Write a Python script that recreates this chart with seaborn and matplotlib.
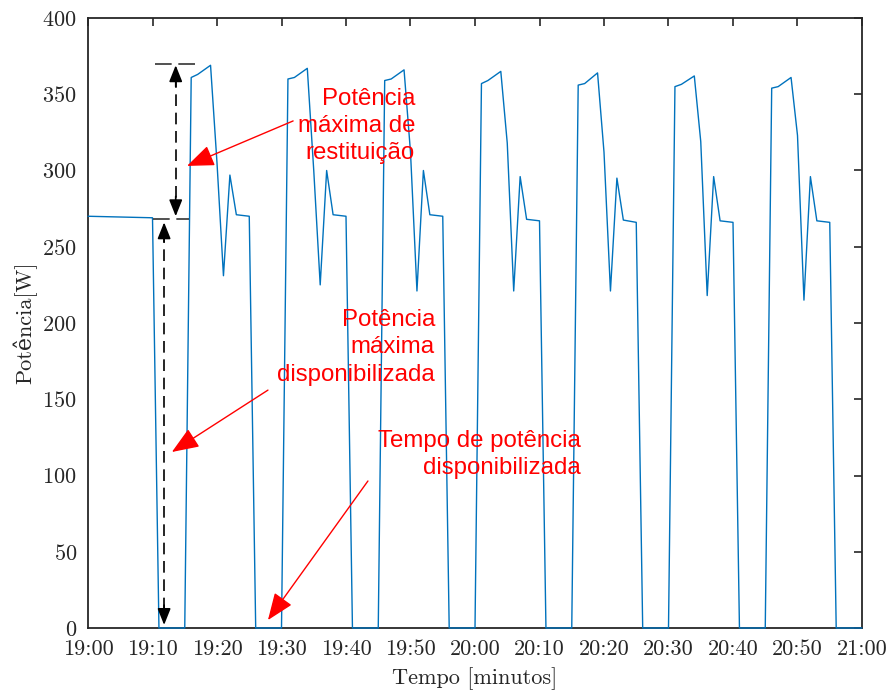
import matplotlib
matplotlib.use("Agg")
import matplotlib.pyplot as plt
import pandas as pd
import seaborn as sns

# Measured power, time in minutes after 19:00
minutes = [0, 10, 11, 15,
           16, 17, 19, 20, 21, 22, 23, 25, 26, 30,
           31, 32, 34, 35, 36, 37, 38, 40, 41, 45,
           46, 47, 49, 50, 51, 52, 53, 55, 56, 60,
           61, 62, 64, 65, 66, 67, 68, 70, 71, 75,
           76, 77, 79, 80, 81, 82, 83, 85, 86, 90,
           91, 92, 94, 95, 96, 97, 98, 100, 101, 105,
           106, 107, 109, 110, 111, 112, 113, 115, 116, 120]
power = [270, 269, 0, 0,
         361, 363, 369, 305, 231, 297, 271, 270, 0, 0,
         360, 361, 367, 300, 225, 300, 271, 270, 0, 0,
         359, 360, 366, 312, 221, 300, 271, 270, 0, 0,
         357, 359, 365, 318, 221, 296, 268, 267, 0, 0,
         356, 357, 364, 312, 221, 295, 267.5, 266, 0, 0,
         355, 356.5, 362, 319, 218, 296, 267, 266, 0, 0,
         354, 355, 361, 323, 215, 296, 267, 266, 0, 0]

xtick_minutes = [0, 10, 20, 30, 40, 50, 60, 70, 80, 90, 100, 110, 120]
xtick_labels = ["19:00", "19:10", "19:20", "19:30", "19:40", "19:50", "20:00",
                "20:10", "20:20", "20:30", "20:40", "20:50", "21:00"]
yticks = [0, 50, 100, 150, 200, 250, 300, 350, 400]

sns.set_theme(style="white")
plt.rcParams["font.family"] = ["cmr10", "DejaVu Serif"]
plt.rcParams["axes.formatter.use_mathtext"] = True

W, H = 892, 697
fig = plt.figure(figsize=(W / 100, H / 100), dpi=100)
L, R, T, B = 88, 862, 18, 628
ax = fig.add_axes([L / W, 1 - B / H, (R - L) / W, (B - T) / H])

df = pd.DataFrame({"t": minutes, "p": power})
sns.lineplot(data=df, x="t", y="p", ax=ax, color="#0072BD", linewidth=1.0)
for ln in ax.lines:
    ln.set_zorder(3)
    ln.set_clip_on(False)

ax.set_xlim(0, 120)
ax.set_ylim(0, 400)
ax.set_xticks(xtick_minutes)
ax.set_xticklabels(xtick_labels)
ax.set_yticks(yticks)
ax.tick_params(direction="in", length=6, width=1.2, top=True, right=True,
               labelsize=16, pad=8, colors="#262626")
for s in ax.spines.values():
    s.set_linewidth(1.3)
    s.set_color("#262626")
    s.set_visible(True)
ax.set_xlabel("Tempo [minutos]", fontsize=16, color="#262626", labelpad=6)
ax.set_ylabel("Potência[W]", fontsize=16, color="#262626", labelpad=4)

# Dashed reference marks for the two power levels
dash_kw = dict(color="#333333", linewidth=1.2, dashes=(10, 4), clip_on=False, zorder=4)
ax.plot([10.4, 17.5], [370, 370], **dash_kw)
ax.plot([10.1, 15.7], [268, 268], **dash_kw)
ax.plot([13.6, 13.6], [362, 276], color="black", linewidth=1.2, dashes=(7, 4), zorder=4)
ax.plot([11.8, 11.8], [260, 8], color="black", linewidth=1.2, dashes=(7, 4), zorder=4)

head_kw = dict(arrowstyle="-|>,head_length=1.0,head_width=0.4", color="black",
               lw=1.2, shrinkA=0, shrinkB=0, mutation_scale=10)
for x0, y_from, y_to in [(13.6, 355, 369), (13.6, 283, 270), (11.8, 253, 266), (11.8, 15, 2)]:
    ax.annotate("", xy=(x0, y_to), xytext=(x0, y_from), arrowprops=head_kw, zorder=5)

# Red call-outs
red_kw = dict(arrowstyle="-|>,head_length=1.4,head_width=0.55", color="red",
              lw=1.0, shrinkA=0, shrinkB=0, mutation_scale=12)
txt_kw = dict(color="red", fontsize=17.3, family=["Liberation Sans", "DejaVu Sans"],
              ha="right", va="center", multialignment="right", linespacing=1.3)

ax.annotate("", xy=(15.35, 303), xytext=(31.8, 332.5), arrowprops=red_kw)
ax.text(50.7, 329, "Potência\nmáxima de\nrestituição", **txt_kw)

ax.annotate("", xy=(13.0, 115.4), xytext=(27.9, 156), arrowprops=red_kw)
ax.text(53.8, 184, "Potência\nmáxima\ndisponibilizada", **txt_kw)

ax.annotate("", xy=(27.9, 5.2), xytext=(43.4, 96.4), arrowprops=red_kw)
ax.text(76.4, 114, "Tempo de potência\ndisponibilizada", **txt_kw)

fig.savefig("out.png", dpi=100, facecolor="white")
